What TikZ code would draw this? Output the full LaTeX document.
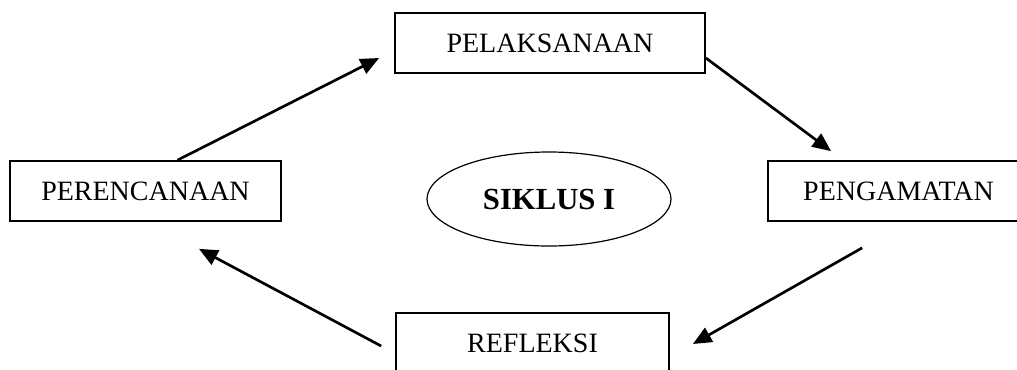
\documentclass[tikz,border=0pt]{standalone}
\usepackage{fontspec}
\setmainfont{Liberation Serif}
\usetikzlibrary{shapes.geometric}
\usetikzlibrary{positioning}
\usetikzlibrary{calc}
\usetikzlibrary{arrows.meta}

\begin{document}
\begin{tikzpicture}
		[
			x = 0.75pt, y = -0.75pt,
			stage/.style = {rectangle, draw = black, line width = 1.3pt, minimum height = 45pt, inner sep = 0pt, font = \fontsize{21}{25}\selectfont},
			cycle/.style = {ellipse, draw = black, line width = 0.9pt, minimum width = 183pt, minimum height = 70.5pt, inner sep = 0pt, font = \fontsize{23}{27}\selectfont\bfseries},
			flow/.style = {line width = 2pt, -{Triangle[length = 14pt, width = 12pt]}},
		]
			%
			\useasboundingbox (0,0) rectangle (1017,369);
			%
			\node (pelaksanaan) [stage, minimum width = 232.5pt] at (550,43) {PELAKSANAAN};
			\node (perencanaan) [stage, minimum width = 203.25pt] at (145.5,191) {PERENCANAAN};
			\node (pengamatan) [stage, minimum width = 195.75pt] at (898.5,191) {PENGAMATAN};
			\node (refleksi) [stage, minimum width = 204.75pt] at (532.5,343) {REFLEKSI};
			\node (siklus) [cycle] at (549,199) {SIKLUS I};
			%
			\draw [flow] ($(perencanaan.north)+(32,0)$) -- ($(pelaksanaan.west)+(-15,15)$);
			\draw [flow] ($(pelaksanaan.east)+(0,15)$) -- ($(pengamatan.north west)+(64,-9)$);
			\draw [flow] ($(pengamatan.south west)+(95,26)$) -- ($(refleksi.east)+(23,1)$);
			\draw [flow] ($(refleksi.west)+(-14,3)$) -- ($(perencanaan.south)+(53.5,27)$);
			%
		\end{tikzpicture}
\end{document}
